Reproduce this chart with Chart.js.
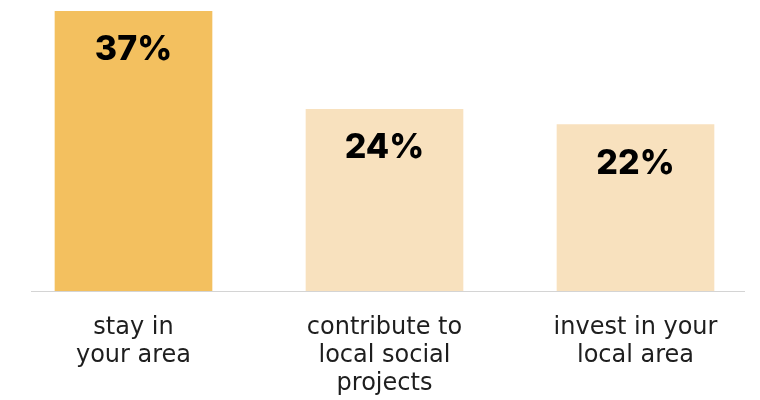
<!DOCTYPE html>
<html>
<head>
<meta charset="utf-8">
<script src="https://cdn.jsdelivr.net/npm/chart.js@4/dist/chart.umd.min.js"></script>
<style>
  html, body { margin: 0; padding: 0; background: #ffffff; }
  #wrap { width: 760px; height: 400px; overflow: hidden; }
  #chart { display: block; }
</style>
</head>
<body>
<div id="wrap"><canvas id="chart" width="761" height="421"></canvas></div>
<script>
// Survey answers: share of people who would...
const categories = [
  ['stay in', 'your area'],
  ['contribute to', 'local social', 'projects'],
  ['invest in your', 'local area']
];
const shares = [37, 24, 22];
const barColors = ['#F3C05F', '#F8E1BE', '#F8E1BE'];

const VALUE_FONT = 'Inter, "Noto Sans", sans-serif';
const LABEL_FONT = '"DejaVu Sans", Verdana, sans-serif';

// Bold percentage printed inside the top of each bar
const valueLabels = {
  id: 'valueLabels',
  afterDatasetsDraw(chart) {
    const ctx = chart.ctx;
    const meta = chart.getDatasetMeta(0);
    ctx.save();
    ctx.fillStyle = '#000000';
    ctx.font = '800 34px ' + VALUE_FONT;
    ctx.textAlign = 'center';
    ctx.textBaseline = 'alphabetic';
    meta.data.forEach((bar, i) => {
      ctx.fillText(shares[i] + '%', bar.x, bar.y + 49);
    });
    ctx.restore();
  }
};

// Thin grey baseline under the bars
const baseline = {
  id: 'baseline',
  afterDatasetsDraw(chart) {
    const ctx = chart.ctx;
    const y = Math.round(chart.scales.y.getPixelForValue(0)) + 0.5;
    const area = chart.chartArea;
    ctx.save();
    ctx.strokeStyle = '#d4d4d4';
    ctx.lineWidth = 1;
    ctx.beginPath();
    ctx.moveTo(area.left + 23, y);
    ctx.lineTo(area.right - 16, y);
    ctx.stroke();
    ctx.restore();
  }
};

new Chart(document.getElementById('chart'), {
  type: 'bar',
  data: {
    labels: categories,
    datasets: [{
      data: shares,
      backgroundColor: barColors,
      borderWidth: 0,
      barThickness: 157
    }]
  },
  options: {
    responsive: false,
    animation: false,
    layout: { padding: { top: 11, left: 8, right: 0, bottom: 0 } },
    plugins: {
      legend: { display: false },
      tooltip: { enabled: false }
    },
    scales: {
      x: {
        grid: { display: false, drawTicks: false },
        border: { display: false },
        ticks: {
          color: '#1e1e1e',
          padding: 23,
          font: { family: LABEL_FONT, size: 24, weight: '400', lineHeight: 28 / 24 }
        }
      },
      y: {
        display: false,
        min: 0,
        max: 37
      }
    }
  },
  plugins: [valueLabels, baseline]
});
</script>
</body>
</html>
